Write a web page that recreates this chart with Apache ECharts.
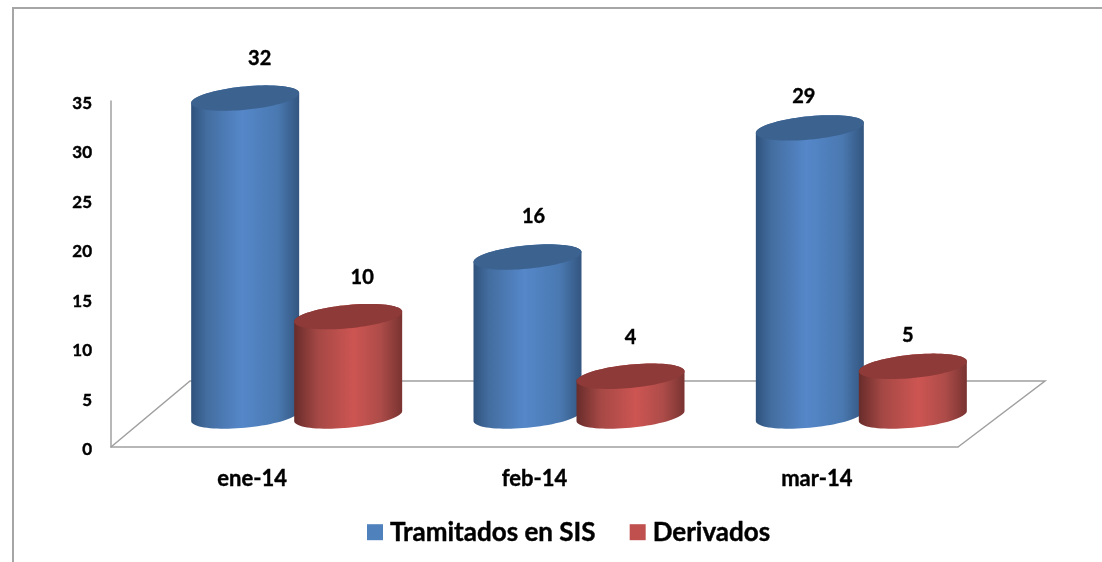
<!DOCTYPE html>
<html>
<head>
<meta charset="utf-8">
<style>html,body{margin:0;padding:0;background:#fff}#c{width:1102px;height:562px}</style>
<script src="https://cdn.jsdelivr.net/npm/echarts@6/dist/echarts.min.js"></script>
</head>
<body>
<div id="c"></div>
<script>
const categories = ['ene-14', 'feb-14', 'mar-14'];
const tramitados = [32, 16, 29];
const derivados = [10, 4, 5];
const yTicks = [0, 5, 10, 15, 20, 25, 30, 35];

const FONT = 'Lato';
const R = 54, TILT = 5, RY = 11.7;       // ellipse shape
const DEPTH_X = 44.5, DEPTH_Y = 31, SPREAD = 51.5; // placement on the 3D floor
const HEIGHT_GAIN = 1.005;
const LABEL_NUDGE = { 'Tramitados en SIS': [[14.5, -40], [6, -40], [-6, -31.5]], 'Derivados': [[14, -39], [0, -39], [-5, -31]] };
const HEAVY = { textBorderColor: '#000', textBorderWidth: 0.4 };

function ell(cx, cy, from, to, n) {
  const pts = [];
  for (let i = 0; i <= n; i++) {
    const t = from + (to - from) * i / n;
    pts.push([cx + R * Math.cos(t), cy + RY * Math.sin(t) - TILT * Math.cos(t)]);
  }
  return pts;
}
function grad(stops) {
  return new echarts.graphic.LinearGradient(0, 0, 1, 0, stops.map(s => ({ offset: s[0], color: s[1] })));
}
function cylinder(side, stops, capColor, name) {
  return function (params, api) {
    const i = api.value(0), v = api.value(1);
    const base = api.coord([i, 0]), top = api.coord([i, v]);
    const cx = base[0] + DEPTH_X + side * SPREAD;
    const by = base[1] - DEPTH_Y;
    const ty = by - (base[1] - top[1]) * HEIGHT_GAIN;
    const lower = ell(cx, by, 0, Math.PI, 40);
    const upper = ell(cx, ty, Math.PI, 2 * Math.PI, 40);
    const nudge = LABEL_NUDGE[name][i];
    return {
      type: 'group',
      children: [
        { type: 'polygon', shape: { points: lower.concat(upper) }, style: { fill: grad(stops) } },
        { type: 'polygon', shape: { points: ell(cx, ty, 0, 2 * Math.PI, 80) }, style: { fill: capColor } },
        { type: 'text', x: cx + nudge[0], y: ty + nudge[1],
          style: { text: String(v), font: 'bold 20px ' + FONT, fill: '#000', stroke: '#000', lineWidth: 0.4, align: 'center', verticalAlign: 'middle' } }
      ]
    };
  };
}
const blueStops = [[0, '#2f527c'], [0.14, '#436d9f'], [0.47, '#5587c9'], [0.8, '#4a79b1'], [1, '#335680']];
const redStops = [[0, '#682c2a'], [0.22, '#a54845'], [0.55, '#cd5552'], [0.8, '#ad4c49'], [1, '#793331']];

const chart = echarts.init(document.getElementById('c'), null, { renderer: 'canvas' });
chart.setOption({
  animation: false,
  backgroundColor: '#fff',
  grid: { left: 111, right: 144, top: 101, bottom: 115 },
  graphic: [{ type: 'polyline', silent: true, shape: { points: [[13, 562], [13, 8], [1102, 8]] },
    style: { stroke: '#a6a6a6', lineWidth: 2, fill: null } }],
  legend: {
    data: ['Tramitados en SIS', 'Derivados'],
    left: 367, top: 519, padding: 0, itemWidth: 16, itemHeight: 16, itemGap: 34, icon: 'rect',
    itemStyle: { borderWidth: 0 },
    textStyle: Object.assign({ fontFamily: FONT, fontWeight: 'bold', fontSize: 26, color: '#000', padding: [0, 0, 0, 2] }, HEAVY)
  },
  xAxis: {
    type: 'category', data: categories,
    axisLine: { lineStyle: { color: '#a0a0a0', width: 1.5 } }, axisTick: { show: false }, splitLine: { show: false },
    axisLabel: Object.assign({ margin: 21, fontFamily: FONT, fontWeight: 'bold', fontSize: 22, color: '#000' }, HEAVY)
  },
  yAxis: {
    type: 'value', min: yTicks[0], max: yTicks[yTicks.length - 1], interval: yTicks[1] - yTicks[0],
    axisLine: { show: true, lineStyle: { color: '#a0a0a0', width: 1.5 } }, axisTick: { show: false }, splitLine: { show: false },
    axisLabel: {
      margin: 19, formatter: '{t|{value}}',
      rich: { t: Object.assign({ padding: [5, 0, 0, 0], fontFamily: FONT, fontWeight: 'bold', fontSize: 17, color: '#000' }, HEAVY) }
    }
  },
  series: [
    {
      type: 'custom', name: 'floor', silent: true, z: 1, data: [[0, 0]],
      renderItem: function (params, api) {
        const a = api.coord([0, 0]);
        const sz = api.size([1, 0]);
        const w = sz[0] * categories.length;
        const left = a[0] - sz[0] / 2, y = a[1];
        return { type: 'polyline', shape: { points: [[left, y], [left + 79, y - 66], [left + w + 87, y - 66], [left + w, y]] },
          style: { stroke: '#a0a0a0', lineWidth: 1.5, fill: null } };
      }
    },
    {
      type: 'custom', name: 'Tramitados en SIS', z: 2, itemStyle: { color: '#4f81bd' },
      data: tramitados.map((v, i) => [i, v]),
      renderItem: cylinder(-1, blueStops, '#3c628f', 'Tramitados en SIS')
    },
    {
      type: 'custom', name: 'Derivados', z: 3, itemStyle: { color: '#c0504d' },
      data: derivados.map((v, i) => [i, v]),
      renderItem: cylinder(1, redStops, '#8e3a38', 'Derivados')
    }
  ]
});
</script>
</body>
</html>
